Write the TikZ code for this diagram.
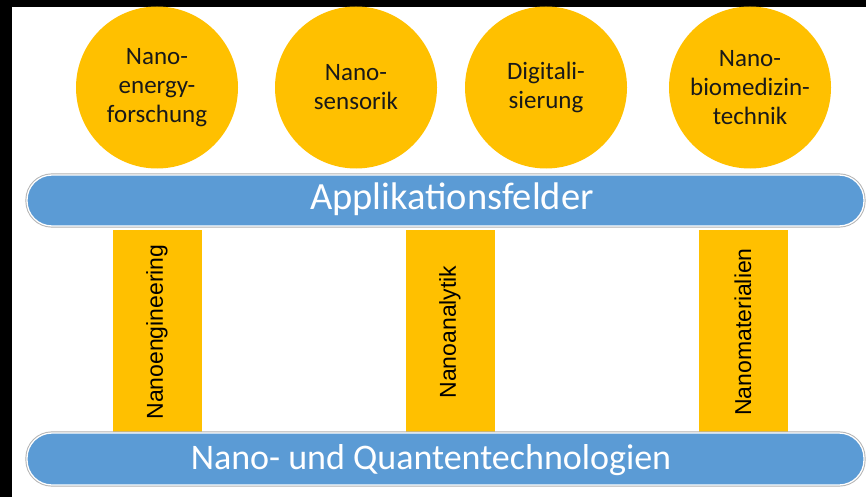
\documentclass[tikz,border=0pt]{standalone}
\usepackage{fontspec}
\setmainfont{Carlito}
\newfontfamily\pillarfont{Liberation Sans}
\definecolor{gold}{HTML}{FFC000}
\definecolor{barblue}{HTML}{5B9BD5}
\begin{document}
\begin{tikzpicture}[x=1pt,y=-1pt,
  circ/.style={circle,fill=gold,minimum size=162pt,inner sep=0pt,align=center,
    font=\fontsize{25}{29}\selectfont,text=black!90},
  bar/.style={rounded corners=25pt,fill=barblue,draw=white,line width=1.3pt,
    preaction={draw=black!30,line width=3.2pt}},
  bartext/.style={anchor=base,text=white},
  pillar/.style={fill=gold,draw=white,line width=1pt},
  pillartext/.style={rotate=90,text=black,font=\pillarfont\fontsize{23}{26}\selectfont}]
\useasboundingbox (0,0) rectangle (866,497);
\fill[white] (0,0) rectangle (866,497);
\fill[black] (0,0) rectangle (866,7);
\fill[black] (0,0) rectangle (12,497);

% circles
\node[circ] (c1) at (157,87.5) {Nano-\\energy-\\forschung};
\node[circ] (c2) at (356,87.5) {Nano-\\sensorik};
\node[circ] (c3) at (546,87.5) {Digitali-\\sierung};
\node[circ] (c4) at (750,87.5) {Nano-\\biomedizin-\\technik};

% pillars
\draw[pillar] (112,229) rectangle (202,434);
\draw[pillar] (405,229) rectangle (495,434);
\draw[pillar] (698,229) rectangle (788,434);
\node[pillartext] (p1) at (157,332) {Nanoengineering};
\node[pillartext] (p2) at (450,332) {Nanoanalytik};
\node[pillartext] (p3) at (743,332) {Nanomaterialien};

% bars
\draw[bar] (27,175) rectangle (864,226);
\node[bartext,font=\fontsize{38.5}{42}\selectfont] (t1) at (452,209) {Applikationsfelder};
\draw[bar] (27,433) rectangle (864,485);
\node[bartext,font=\fontsize{36}{40}\selectfont] (t2) at (431,469) {Nano- und Quantentechnologien};
\end{tikzpicture}
\end{document}
